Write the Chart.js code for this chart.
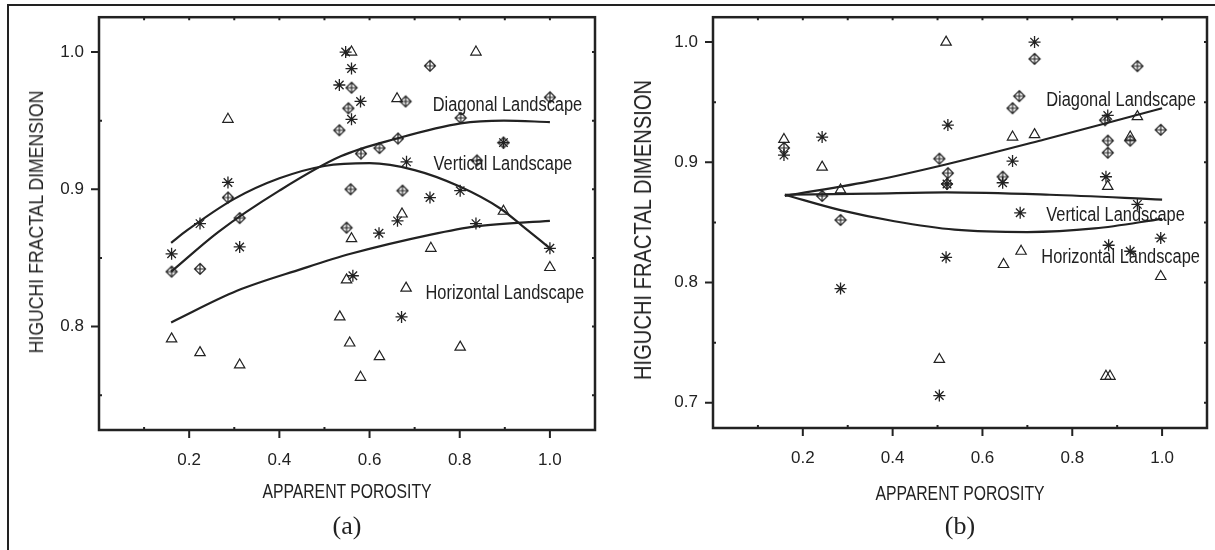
<!DOCTYPE html>
<html>
<head>
<meta charset="utf-8">
<script src="https://cdn.jsdelivr.net/npm/chart.js@4"></script>
<style>
  body { margin: 0; background: #fff; }
  #page { position: relative; width: 1215px; height: 550px; overflow: hidden; background: #fff;
          font-family: "Liberation Sans", Arial, sans-serif; color: #222; }
  canvas { position: absolute; top: 0; }
  .lbl { position: absolute; white-space: nowrap; transform: translate(-50%, -50%) scaleX(0.75); font-size: 21px; }
  .ytitle { transform: translate(-50%, -50%) rotate(-90deg) scaleX(0.84); font-size: 21px; }
  .big { font-size: 24px; }
  .cap { font-family: "Liberation Serif", "Times New Roman", serif; font-size: 26px; transform: translate(-50%, -50%); }
  .edge { position: absolute; background: #222; }
</style>
</head>
<body>
<div id="page">
  <div class="edge" style="left:7px;top:4px;width:2px;height:546px"></div>
  <div class="edge" style="left:7px;top:4px;width:1208px;height:2px"></div>
  <canvas id="chartA" width="605" height="550" style="left:0"></canvas>
  <canvas id="chartB" width="610" height="550" style="left:605px"></canvas>
  <div class="lbl ytitle" style="left:36px;top:222px">HIGUCHI FRACTAL DIMENSION</div>
  <div class="lbl" style="left:347px;top:491px">APPARENT POROSITY</div>
  <div class="lbl cap" style="left:347px;top:526px">(a)</div>
  <div class="lbl ytitle big" style="left:643px;top:230px">HIGUCHI FRACTAL DIMENSION</div>
  <div class="lbl" style="left:960px;top:493px">APPARENT POROSITY</div>
  <div class="lbl cap" style="left:960px;top:526px">(b)</div>
</div>
<script>
// tick positions
const xTicks = [0.2, 0.4, 0.6, 0.8, 1.0];
const xMinor = [0.1, 0.3, 0.5, 0.7, 0.9];
const yTicksA = [0.8, 0.9, 1.0];
const yMinorA = [0.75, 0.85, 0.95];
const yTicksB = [0.7, 0.8, 0.9, 1.0];
const yMinorB = [0.75, 0.85, 0.95];

const curveNames = ['Diagonal Landscape', 'Vertical Landscape', 'Horizontal Landscape'];

// panel (a) points
const aDiagX = [0.161, 0.224, 0.286, 0.312, 0.533, 0.553, 0.56, 0.558, 0.549, 0.581, 0.622, 0.663, 0.68, 0.673, 0.734, 0.802, 0.838, 0.897, 1.0];
const aDiagY = [0.840, 0.842, 0.894, 0.879, 0.943, 0.959, 0.974, 0.900, 0.872, 0.926, 0.930, 0.937, 0.964, 0.899, 0.990, 0.952, 0.921, 0.934, 0.967];
const aVertX = [0.161, 0.224, 0.286, 0.312, 0.533, 0.547, 0.56, 0.56, 0.58, 0.563, 0.621, 0.662, 0.671, 0.682, 0.734, 0.801, 0.836, 0.897, 1.0];
const aVertY = [0.853, 0.875, 0.905, 0.858, 0.976, 1.0, 0.988, 0.951, 0.964, 0.837, 0.868, 0.877, 0.807, 0.920, 0.894, 0.899, 0.875, 0.934, 0.857];
const aHorzX = [0.161, 0.224, 0.286, 0.312, 0.534, 0.549, 0.56, 0.56, 0.556, 0.58, 0.622, 0.661, 0.672, 0.681, 0.736, 0.801, 0.836, 0.897, 1.0];
const aHorzY = [0.791, 0.781, 0.951, 0.772, 0.807, 0.834, 0.864, 1.0, 0.788, 0.763, 0.778, 0.966, 0.882, 0.828, 0.857, 0.785, 1.0, 0.884, 0.843];

// panel (a) fitted curves
const aDiagFitX = [0.16, 0.265, 0.4, 0.536, 0.661, 0.802, 0.898, 1.0];
const aDiagFitY = [0.840, 0.869, 0.899, 0.924, 0.937, 0.948, 0.950, 0.949];
const aVertFitX = [0.16, 0.195, 0.3, 0.4, 0.5, 0.6, 0.7, 0.8, 0.89, 0.94, 1.0];
const aVertFitY = [0.861, 0.870, 0.893, 0.908, 0.917, 0.919, 0.914, 0.902, 0.886, 0.873, 0.857];
const aHorzFitX = [0.16, 0.306, 0.45, 0.558, 0.736, 0.836, 1.0];
const aHorzFitY = [0.803, 0.826, 0.842, 0.853, 0.867, 0.873, 0.877];
// curve name anchors (left end of the text baseline)
const aLabelX = [0.74, 0.742, 0.724];
const aLabelY = [0.957, 0.914, 0.820];

// panel (b) points
const bDiagX = [0.158, 0.243, 0.284, 0.504, 0.523, 0.521, 0.645, 0.667, 0.682, 0.716, 0.873, 0.879, 0.879, 0.929, 0.945, 0.997];
const bDiagY = [0.912, 0.872, 0.852, 0.903, 0.891, 0.882, 0.888, 0.945, 0.955, 0.986, 0.935, 0.918, 0.908, 0.918, 0.980, 0.927];
const bVertX = [0.158, 0.243, 0.284, 0.504, 0.519, 0.521, 0.523, 0.645, 0.667, 0.684, 0.716, 0.875, 0.879, 0.881, 0.929, 0.945, 0.997];
const bVertY = [0.906, 0.921, 0.795, 0.706, 0.821, 0.882, 0.931, 0.883, 0.901, 0.858, 1.0, 0.888, 0.939, 0.831, 0.826, 0.865, 0.837];
const bHorzX = [0.158, 0.243, 0.284, 0.504, 0.519, 0.647, 0.667, 0.686, 0.716, 0.875, 0.884, 0.879, 0.929, 0.945, 0.997];
const bHorzY = [0.919, 0.896, 0.877, 0.736, 1.0, 0.815, 0.921, 0.826, 0.923, 0.722, 0.722, 0.880, 0.921, 0.938, 0.805];

// panel (b) fitted curves
const bDiagFitX = [0.16, 0.36, 0.516, 0.738, 0.9, 1.0];
const bDiagFitY = [0.872, 0.885, 0.898, 0.919, 0.935, 0.945];
const bVertFitX = [0.16, 0.35, 0.52, 0.75, 1.0];
const bVertFitY = [0.873, 0.874, 0.875, 0.873, 0.869];
const bHorzFitX = [0.16, 0.286, 0.404, 0.538, 0.7, 0.85, 1.0];
const bHorzFitY = [0.873, 0.860, 0.851, 0.844, 0.842, 0.845, 0.853];
const bLabelX = [0.742, 0.742, 0.731];
const bLabelY = [0.947, 0.851, 0.8165];

const ink = '#222';
const sans = '"Liberation Sans", Arial, sans-serif';

function pts(xs, ys) {
  return xs.map((x, i) => ({ x: x, y: ys[i] }));
}

// diamond with a cross inside
function diamondMark() {
  const c = document.createElement('canvas');
  c.width = 14; c.height = 14;
  const g = c.getContext('2d');
  g.strokeStyle = ink;
  g.lineWidth = 1.2;
  g.beginPath();
  g.moveTo(7, 1.5); g.lineTo(12.5, 7); g.lineTo(7, 12.5); g.lineTo(1.5, 7); g.closePath();
  g.moveTo(7, 1.5); g.lineTo(7, 12.5);
  g.moveTo(1.5, 7); g.lineTo(12.5, 7);
  g.stroke();
  return c;
}
const diamond = diamondMark();

const framePlugin = {
  id: 'frame',
  afterDraw(chart, args, opts) {
    const { ctx, chartArea: a, scales } = chart;
    const sx = scales.x, sy = scales.y;
    ctx.save();
    ctx.strokeStyle = ink;
    ctx.lineWidth = 2;
    ctx.beginPath();
    opts.xMajor.forEach(v => {
      const px = sx.getPixelForValue(v);
      ctx.moveTo(px, a.bottom); ctx.lineTo(px, a.bottom + 8);
      ctx.moveTo(px, a.top); ctx.lineTo(px, a.top + 3);
    });
    opts.xMinor.forEach(v => {
      const px = sx.getPixelForValue(v);
      ctx.moveTo(px, a.bottom); ctx.lineTo(px, a.bottom - 3);
      ctx.moveTo(px, a.top); ctx.lineTo(px, a.top + 3);
    });
    opts.yMajor.forEach(v => {
      const py = sy.getPixelForValue(v);
      ctx.moveTo(a.left, py); ctx.lineTo(a.left - 8, py);
      ctx.moveTo(a.right, py); ctx.lineTo(a.right - 3, py);
    });
    opts.yMinor.forEach(v => {
      const py = sy.getPixelForValue(v);
      ctx.moveTo(a.left, py); ctx.lineTo(a.left + 3, py);
      ctx.moveTo(a.right, py); ctx.lineTo(a.right - 3, py);
    });
    ctx.stroke();
    ctx.lineWidth = 2.5;
    ctx.strokeRect(a.left, a.top, a.right - a.left, a.bottom - a.top);

    // curve names, horizontally condensed like the narrow face of the original
    ctx.fillStyle = ink;
    ctx.font = '20px ' + sans;
    ctx.textBaseline = 'alphabetic';
    ctx.textAlign = 'left';
    curveNames.forEach((t, i) => {
      ctx.save();
      ctx.translate(sx.getPixelForValue(opts.labelX[i]), sy.getPixelForValue(opts.labelY[i]));
      ctx.scale(0.82, 1);
      ctx.fillText(t, 0, 0);
      ctx.restore();
    });
    ctx.restore();
  }
};

function makeChart(id, d) {
  const curve = (data) => ({
    data: data, showLine: true, pointRadius: 0, borderColor: ink, borderWidth: 2.2,
    cubicInterpolationMode: 'monotone', fill: false
  });
  new Chart(document.getElementById(id), {
    type: 'scatter',
    data: {
      datasets: [
        curve(pts(d.diagFitX, d.diagFitY)),
        curve(pts(d.vertFitX, d.vertFitY)),
        curve(pts(d.horzFitX, d.horzFitY)),
        { label: curveNames[0], data: pts(d.diagX, d.diagY), pointStyle: diamond, pointRadius: 6 },
        { label: curveNames[1], data: pts(d.vertX, d.vertY), pointStyle: 'star', pointRadius: 6,
          borderColor: ink, borderWidth: 1.3 },
        { label: curveNames[2], data: pts(d.horzX, d.horzY), pointStyle: 'triangle', pointRadius: 6,
          borderColor: ink, backgroundColor: 'rgba(0,0,0,0)', borderWidth: 1.2 }
      ]
    },
    options: {
      responsive: false,
      animation: false,
      layout: { padding: { left: 0, right: d.padRight, top: 15, bottom: 0 } },
      plugins: {
        legend: { display: false },
        tooltip: { enabled: false },
        frame: { xMajor: xTicks, xMinor: xMinor, yMajor: d.yTicks, yMinor: d.yMinor,
                 labelX: d.labelX, labelY: d.labelY }
      },
      scales: {
        x: {
          type: 'linear', min: 0, max: 1.1,
          grid: { display: false }, border: { display: false },
          afterBuildTicks: s => { s.ticks = xTicks.map(v => ({ value: v })); },
          afterFit: s => { s.height = d.xHeight; },
          ticks: { padding: 12, color: ink, font: { family: sans, size: 17 },
                   callback: v => v.toFixed(1) }
        },
        y: {
          type: 'linear', min: d.yMin, max: d.yMax,
          grid: { display: false }, border: { display: false },
          afterBuildTicks: s => { s.ticks = d.yTicks.map(v => ({ value: v })); },
          afterFit: s => { s.width = d.yWidth; },
          ticks: { padding: 7, color: ink, font: { family: sans, size: 17 },
                   callback: v => v.toFixed(1) }
        }
      }
    },
    plugins: [framePlugin]
  });
}

makeChart('chartA', {
  diagX: aDiagX, diagY: aDiagY, vertX: aVertX, vertY: aVertY, horzX: aHorzX, horzY: aHorzY,
  diagFitX: aDiagFitX, diagFitY: aDiagFitY, vertFitX: aVertFitX, vertFitY: aVertFitY,
  horzFitX: aHorzFitX, horzFitY: aHorzFitY, labelX: aLabelX, labelY: aLabelY,
  yTicks: yTicksA, yMinor: yMinorA, yMin: 0.7246, yMax: 1.0254,
  yWidth: 99, xHeight: 120, padRight: 10
});

makeChart('chartB', {
  diagX: bDiagX, diagY: bDiagY, vertX: bVertX, vertY: bVertY, horzX: bHorzX, horzY: bHorzY,
  diagFitX: bDiagFitX, diagFitY: bDiagFitY, vertFitX: bVertFitX, vertFitY: bVertFitY,
  horzFitX: bHorzFitX, horzFitY: bHorzFitY, labelX: bLabelX, labelY: bLabelY,
  yTicks: yTicksB, yMinor: yMinorB, yMin: 0.679, yMax: 1.0207,
  yWidth: 108, xHeight: 122, padRight: 8
});
</script>
</body>
</html>
